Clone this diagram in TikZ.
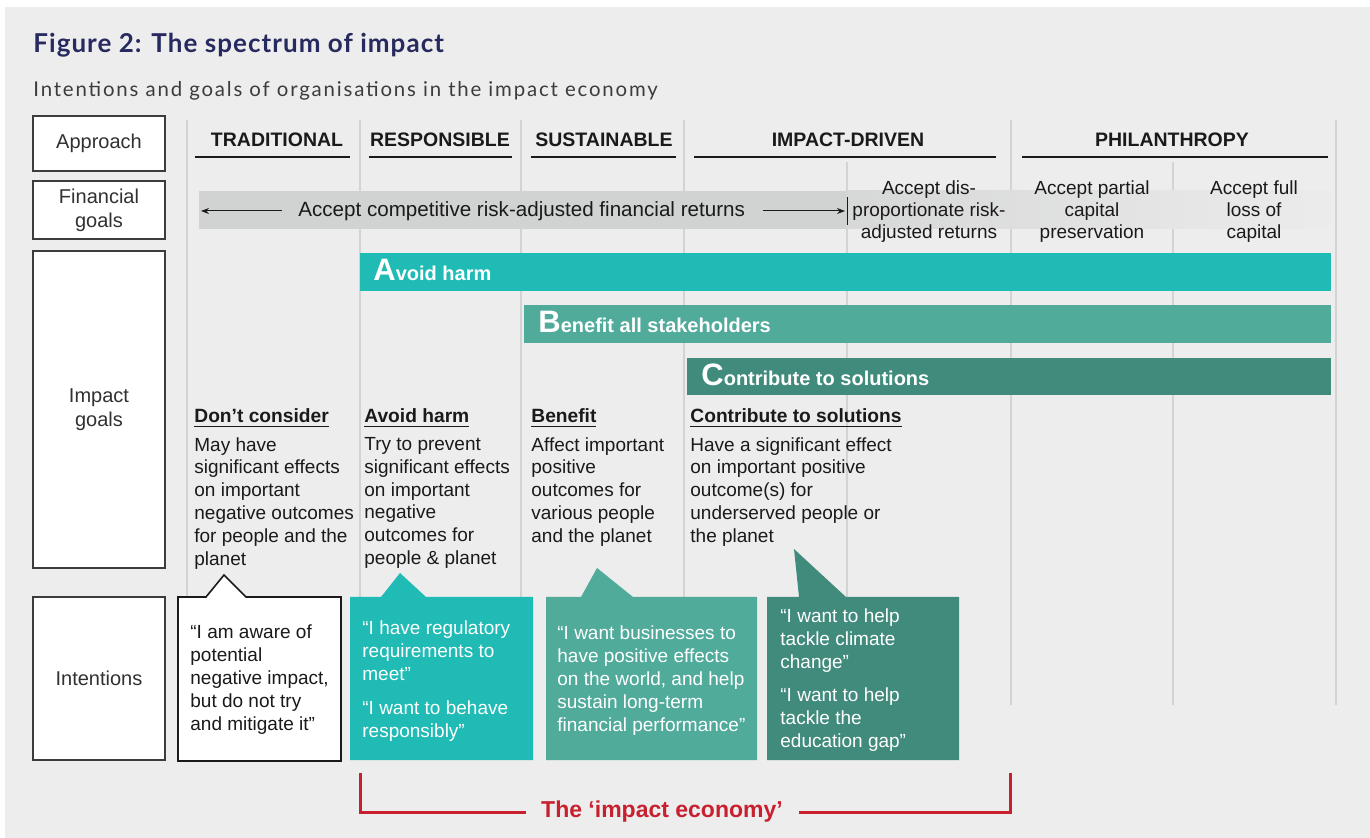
\documentclass[tikz,border=0pt]{standalone}
\usepackage{fontspec}
\setmainfont{Liberation Sans}
\newfontfamily\titlefont{Lato}
\usetikzlibrary{arrows.meta}

\definecolor{bggray}{HTML}{EDEDED}
\definecolor{navy}{HTML}{262A5F}
\definecolor{subgray}{HTML}{3C3C3C}
\definecolor{gridgray}{HTML}{D3D3D3}
\definecolor{fingray}{HTML}{D1D2D2}
\definecolor{tealA}{HTML}{1FBBB4}
\definecolor{tealB}{HTML}{50AB9B}
\definecolor{tealC}{HTML}{418B7D}
\definecolor{ecored}{HTML}{C8202F}
\definecolor{ink}{HTML}{1A1A1A}

\newcommand{\bigletter}[1]{{\fontsize{15.5}{16}\selectfont #1}}

\tikzset{
  labelbox/.style = {draw=ink!85, line width=1pt, fill=white, minimum width=66pt,
                     inner sep=0pt, align=center, text=ink!90,
                     font=\fontsize{10}{12}\selectfont},
  headtext/.style = {anchor=base, inner sep=0pt, text=ink,
                     font=\bfseries\fontsize{9.75}{11}\selectfont},
  headline/.style = {draw=ink, line width=1.3pt},
  gridline/.style = {draw=gridgray, line width=0.75pt},
  fintext/.style  = {anchor=north, align=center, inner sep=0pt, text=ink,
                     font=\fontsize{9.5}{11}\selectfont},
  finarrow/.style = {-{Stealth[length=4pt,width=3pt]}, line width=0.5pt, draw=ink},
  bartext/.style  = {anchor=base west, inner sep=0pt, text=white,
                     font=\bfseries\fontsize{10}{12}\selectfont},
  colhead/.style  = {anchor=base west, inner sep=0pt, text=ink,
                     font=\bfseries\fontsize{9.6}{11}\selectfont},
  coltext/.style  = {anchor=north west, align=left, inner sep=0pt, text=ink,
                     font=\fontsize{9.5}{11.4}\selectfont},
  quotetext/.style= {anchor=north west, align=left, inner sep=0pt,
                     font=\fontsize{9.5}{11.5}\selectfont},
  bracket/.style  = {draw=ecored, line width=1.5pt}
}

\begin{document}
\begin{tikzpicture}[x=0.5pt,y=-0.5pt]

\useasboundingbox (0,0) rectangle (1370,838);
\fill[bggray] (5,7) rectangle (1370,838);

% title
\node[anchor=base west, inner sep=0pt, text=navy,
      font=\titlefont\bfseries\fontsize{13}{14}\selectfont\addfontfeature{LetterSpace=4}] (title) at (33,53)
      {Figure 2: The spectrum of impact};
\node[anchor=base west, inner sep=0pt, text=subgray,
      font=\titlefont\fontsize{10.2}{12}\selectfont\addfontfeature{LetterSpace=9}] (subtitle) at (33,97)
      {Intentions and goals of organisations in the impact economy};

% row labels
\node[labelbox, minimum height=27.5pt] (approach) at (99,143.5) {Approach};
\node[labelbox, minimum height=29pt] (fingoals) at (99,210) {Financial\\goals};
\node[labelbox, minimum height=158.5pt] (impgoals) at (99,409.5) {Impact\\goals};
\node[labelbox, minimum height=81.5pt] (intent) at (99,678.5) {Intentions};

% column lines
\foreach \x in {187,360,521,684,1011,1336}
  \draw[gridline] (\x,120) -- (\x,705);
\foreach \x in {847,1173}
  \draw[gridline] (\x,162) -- (\x,705);

% approach headers
\node[headtext] (trad) at (277,147) {TRADITIONAL};
\node[headtext] (resp) at (440,147) {RESPONSIBLE};
\node[headtext] (sust) at (604,147) {SUSTAINABLE};
\node[headtext] (impdrv) at (848,147) {IMPACT-DRIVEN};
\node[headtext] (phil) at (1172,147) {PHILANTHROPY};
\draw[headline] (195,157) -- (350,157);
\draw[headline] (369,157) -- (512,157);
\draw[headline] (531,157) -- (676,157);
\draw[headline] (694,157) -- (996,157);
\draw[headline] (1022,157) -- (1328,157);

% financial goals
\fill[fingray] (199,191) rectangle (847,229);
\shade[left color=fingray!80!bggray, right color=bggray!95!fingray] (847,191) rectangle (1330,229);
\node[anchor=base west, inner sep=0pt, text=ink, font=\fontsize{10.3}{12}\selectfont]
      (fincomp) at (298,217) {Accept competitive risk-adjusted financial returns};
\coordinate (finLs) at (282,211);
\coordinate (finL) at (201,211);
\coordinate (finRs) at (763,211);
\coordinate (finR) at (845,211);
\draw[finarrow] (finLs) -- (finL);
\draw[finarrow] (finRs) -- (finR);
\draw[draw=ink, line width=0.5pt] (847,197) -- (847,225);
\node[fintext] (findisp) at (929,180) {Accept dis-\\proportionate risk-\\adjusted returns};
\node[fintext] (finpart) at (1092,180) {Accept partial\\capital\\preservation};
\node[fintext] (finfull) at (1254,180) {Accept full\\loss of\\capital};

% impact goal bars
\fill[tealA] (360,253) rectangle (1331,291);
\node[bartext] (barA) at (373,281) {\bigletter{A}void harm};
\fill[tealB] (524,305) rectangle (1331,343);
\node[bartext] (barB) at (538,333) {\bigletter{B}enefit all stakeholders};
\fill[tealC] (687,358) rectangle (1331,395);
\node[bartext] (barC) at (701,386) {\bigletter{C}ontribute to solutions};

% impact goal columns
\node[colhead] (hdtrad) at (194,423) {\underline{Don’t consider}};
\node[colhead] (hdresp) at (364,423) {\underline{Avoid harm}};
\node[colhead] (hdsust) at (531,423) {\underline{Benefit}};
\node[colhead] (hdimp) at (690,423) {\underline{Contribute to solutions}};
\node[coltext] (txtrad) at (194,437) {May have\\significant effects\\on important\\negative outcomes\\for people and the\\planet};
\node[coltext] (txresp) at (364,437) {Try to prevent\\significant effects\\on important\\negative\\outcomes for\\people \& planet};
\node[coltext] (txsust) at (531,437) {Affect important\\positive\\outcomes for\\various people\\and the planet};
\node[coltext] (tximp) at (690,437) {Have a significant effect\\on important positive\\outcome(s) for\\underserved people or\\the planet};

% intentions
\filldraw[draw=ink, fill=white, line width=0.8pt]
  (178,597) -- (206,597) -- (224,575) -- (246,597) -- (341,597)
  -- (341,761) -- (178,761) -- cycle;
\fill[tealA] (350,597) -- (381,597) -- (400,573) -- (426,597) -- (533,597)
  -- (533,760) -- (350,760) -- cycle;
\fill[tealB] (546,597) -- (581,597) -- (597,568) -- (633,597) -- (757,597)
  -- (757,760) -- (546,760) -- cycle;
\fill[tealC] (767,597) -- (799,597) -- (794,549) -- (846,597) -- (959,597)
  -- (959,760) -- (767,760) -- cycle;
\node[quotetext, text=ink] (qtrad) at (190,624)
  {“I am aware of\\potential\\negative impact,\\but do not try\\and mitigate it”};
\node[quotetext, text=white] (qresp) at (362,620)
  {“I have regulatory\\requirements to\\meet”\\[5.5pt]“I want to behave\\responsibly”};
\node[quotetext, text=white] (qsust) at (557,625)
  {“I want businesses to\\have positive effects\\on the world, and help\\sustain long-term\\financial performance”};
\node[quotetext, text=white] (qimp) at (780,608)
  {“I want to help\\tackle climate\\change”\\[5pt]“I want to help\\tackle the\\education gap”};

% impact economy bracket
\node[anchor=base, inner sep=0pt, text=ecored, font=\bfseries\fontsize{11.5}{13}\selectfont]
      (eco) at (662,817) {The ‘impact economy’};
\coordinate (ecoL) at (360,773);
\coordinate (ecoLe) at (526,812);
\coordinate (ecoR) at (1010,773);
\coordinate (ecoRe) at (799,812);
\draw[bracket] (ecoL) |- (ecoLe);
\draw[bracket] (ecoR) |- (ecoRe);

\end{tikzpicture}
\end{document}
